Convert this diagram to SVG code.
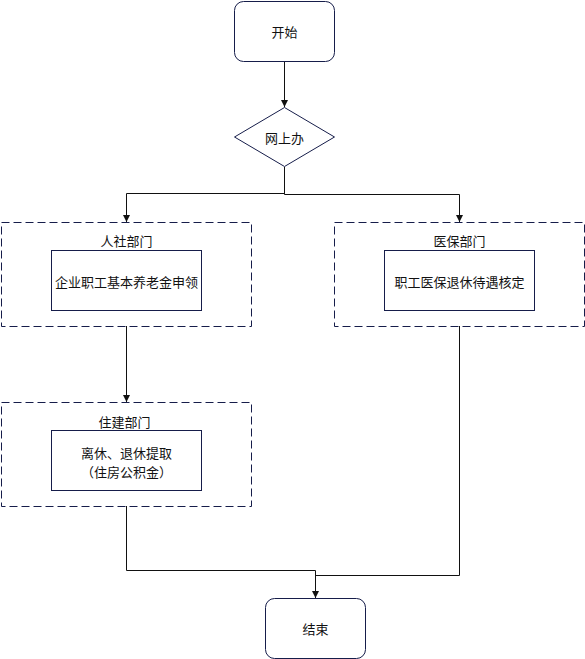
<svg xmlns="http://www.w3.org/2000/svg" width="585" height="659" viewBox="0 0 585 659">
<style>
.node{fill:#ffffff;stroke:#161d4a;stroke-width:1}
.group{fill:none;stroke:#161d4a;stroke-width:1;stroke-dasharray:8 4}
.edge{fill:none;stroke:#111111;stroke-width:1}
text{font-family:"Noto Sans CJK SC","Liberation Sans",sans-serif;font-size:13px;fill:#111111;text-anchor:middle;dominant-baseline:central}
</style>
<defs>
<marker id="arr" markerWidth="8" markerHeight="8" refX="7" refY="4" orient="auto" markerUnits="userSpaceOnUse">
<path d="M0,0.5 L7,4 L0,7.5 Z" fill="#111111"/>
</marker>
</defs>
<rect width="585" height="659" fill="#ffffff"/>
<g id="connectors">
<path class="edge" d="M284.5,61.5 V107" marker-end="url(#arr)"/>
<path class="edge" d="M284.5,167 V193.5 H126.5 V222" marker-end="url(#arr)"/>
<path class="edge" d="M284.5,167 V194.5 H459.5 V222" marker-end="url(#arr)"/>
<path class="edge" d="M126.5,326 V402" marker-end="url(#arr)"/>
<path class="edge" d="M126.5,506 V570.5 H315.5 V598" marker-end="url(#arr)"/>
<path class="edge" d="M459.5,326 V575.5 H315.5"/>
</g>
<g id="start">
<rect class="node" x="234.5" y="1.5" width="100" height="60" rx="9" ry="9"/>
<text x="284.5" y="31.5">开始</text>
</g>
<g id="online">
<path class="node" d="M284.5,107.5 L334.5,137 L284.5,166.5 L234.5,137 Z"/>
<text x="284.5" y="137">网上办</text>
</g>
<g id="hrss-group">
<rect class="group" x="1.5" y="222.5" width="250" height="104"/>
<text x="126.5" y="240">人社部门</text>
</g>
<g id="pension">
<rect class="node" x="51.5" y="250.5" width="150" height="60"/>
<text x="126.5" y="281">企业职工基本养老金申领</text>
</g>
<g id="medical-group">
<rect class="group" x="334.5" y="222.5" width="250" height="104"/>
<text x="459.5" y="240">医保部门</text>
</g>
<g id="medical">
<rect class="node" x="384.5" y="250.5" width="150" height="60"/>
<text x="459.5" y="281">职工医保退休待遇核定</text>
</g>
<g id="housing-group">
<rect class="group" x="1.5" y="402.5" width="250" height="104"/>
<text x="124.5" y="421">住建部门</text>
</g>
<g id="fund">
<rect class="node" x="51.5" y="430.5" width="150" height="60"/>
<text x="126.5" y="452">离休、退休提取</text>
<text x="126.5" y="471">（住房公积金）</text>
</g>
<g id="end">
<rect class="node" x="265.5" y="598.5" width="100" height="60" rx="9" ry="9"/>
<text x="315.5" y="628.5">结束</text>
</g>
</svg>
